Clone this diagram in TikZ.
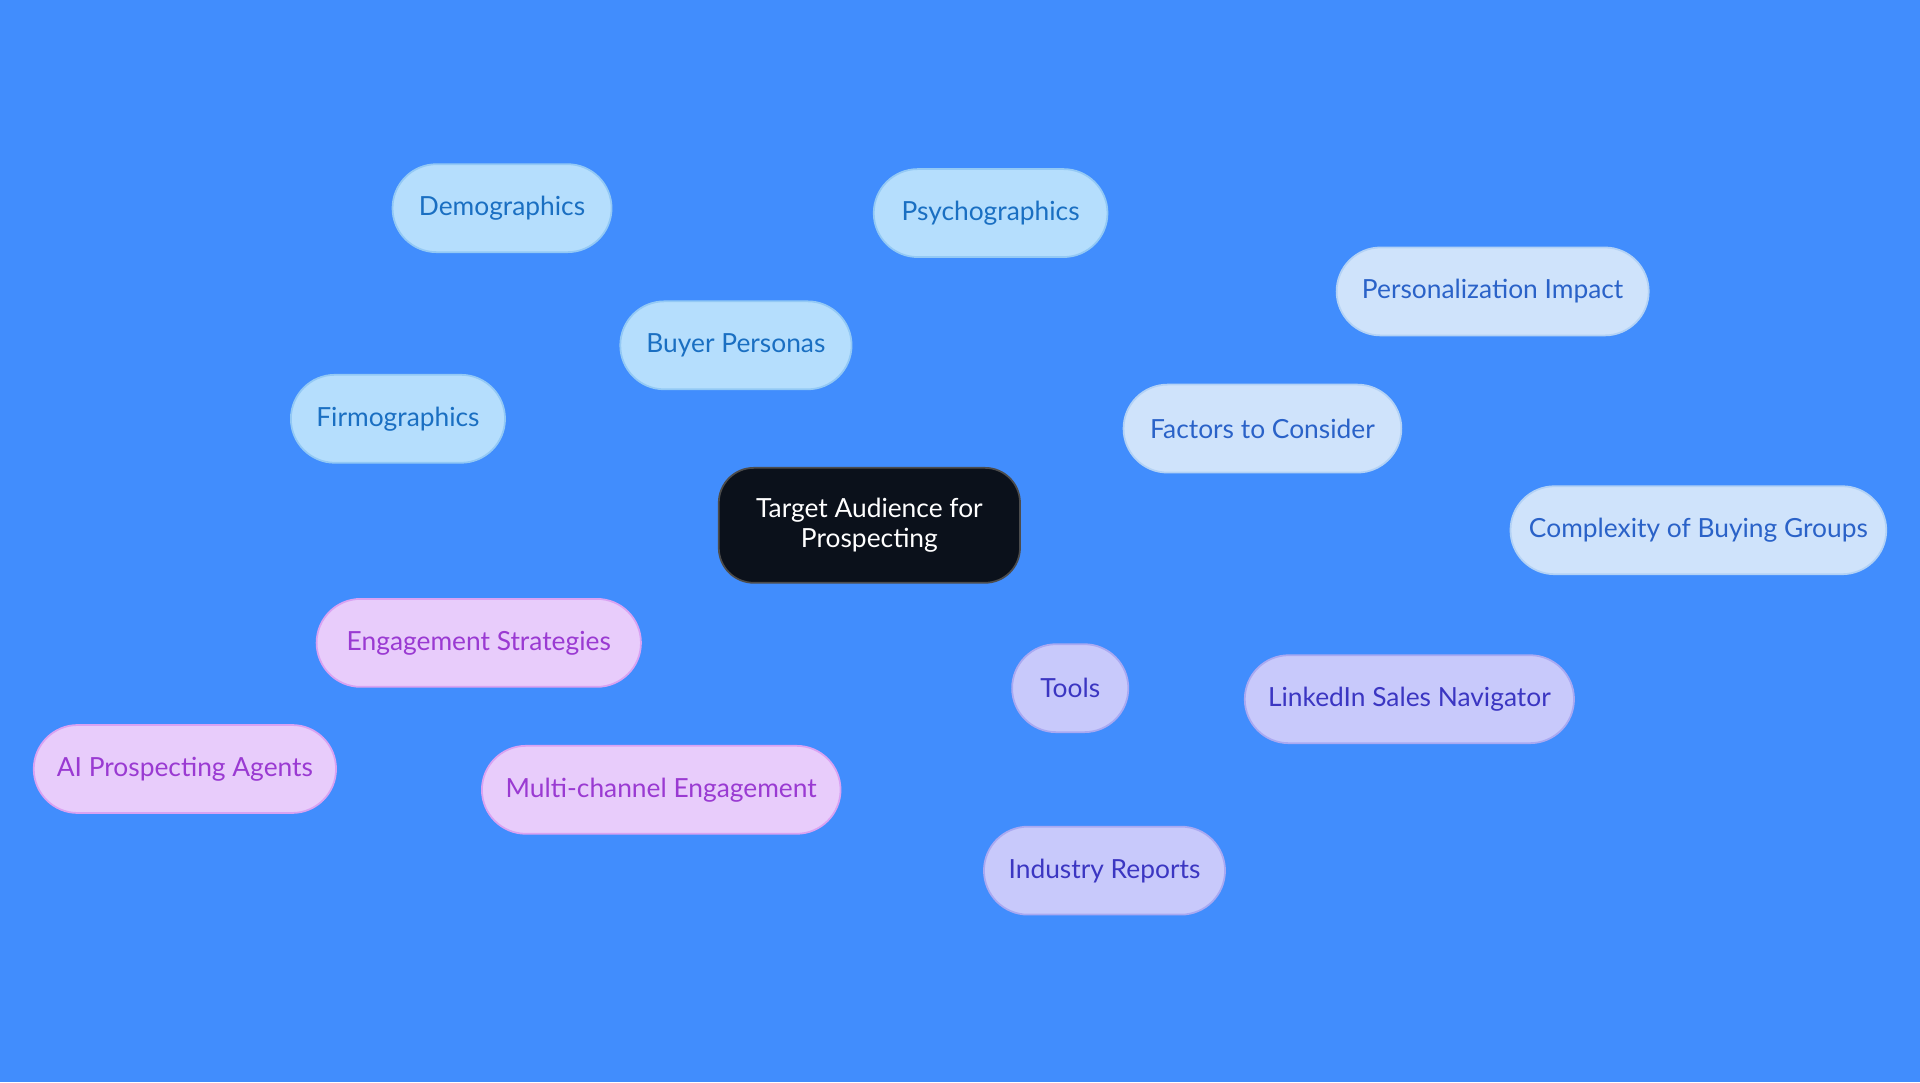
\documentclass[tikz,border=0pt]{standalone}
\usepackage{fontspec}
\setmainfont{Lato}
\usetikzlibrary{positioning, backgrounds, shapes}
\definecolor{bgblue}{HTML}{418DFD}
\definecolor{centerfill}{HTML}{0B111B}
\definecolor{bpfill}{HTML}{B5DEFD}
\definecolor{bptext}{HTML}{1A6FC2}
\definecolor{bpline}{HTML}{93C9F5}
\definecolor{fcfill}{HTML}{CFE3FB}
\definecolor{fctext}{HTML}{2A62C8}
\definecolor{fcline}{HTML}{B3D2F5}
\definecolor{tlfill}{HTML}{C8C9FB}
\definecolor{tltext}{HTML}{3B36C2}
\definecolor{tlline}{HTML}{A9A9F2}
\definecolor{enfill}{HTML}{E8CCFB}
\definecolor{entext}{HTML}{9A3AD2}
\definecolor{enline}{HTML}{D9A2F2}
\begin{document}
\begin{tikzpicture}[x=0.01225cm, y=-0.01225cm,
  font=\fontsize{7.5}{8.5}\selectfont,
  box/.style={draw, rounded rectangle, minimum height=0.88cm, line width=0.5pt, align=center, minimum width={#1*0.01225cm}},
  bp/.style={box=#1, fill=bpfill, draw=bpline, text=bptext},
  fc/.style={box=#1, fill=fcfill, draw=fcline, text=fctext},
  tl/.style={box=#1, fill=tlfill, draw=tlline, text=tltext},
  en/.style={box=#1, fill=enfill, draw=enline, text=entext},
  link/.style={line width=1pt}
]
    % Background
    \fill [bgblue] (0, 0) rectangle (1568, 884);
    \useasboundingbox (0, 0) rectangle (1568, 884);

    % Centre
    \node (target) at (710, 429) [box=246, minimum height=1.15cm, rounded corners=0.35cm, rectangle, fill=centerfill, draw=gray!60!black, text=white] {Target Audience for\\Prospecting};

    % Buyer personas
    \node (personas) at (601, 282) [bp=208] {Buyer Personas};
    \node (demo) at (410, 170) [bp=198] {Demographics};
    \node (psycho) at (809, 174) [bp=210] {Psychographics};
    \node (firmo) at (325, 342) [bp=194] {Firmographics};

    % Factors
    \node (factors) at (1031, 350) [fc=246] {Factors to Consider};
    \node (personal) at (1219, 238) [fc=274] {Personalization Impact};
    \node (groups) at (1387, 433) [fc=326] {Complexity of Buying Groups};

    % Tools
    \node (tools) at (874, 562) [tl=114] {Tools};
    \node (linkedin) at (1151, 571) [tl=288] {LinkedIn Sales Navigator};
    \node (reports) at (902, 711) [tl=216] {Industry Reports};

    % Engagement
    \node (engage) at (391, 525) [en=284] {Engagement Strategies};
    \node (agents) at (151, 628) [en=266] {AI Prospecting Agents};
    \node (multi) at (540, 645) [en=312] {Multi-channel Engagement};

    % Connectors
    \begin{scope}[on background layer]
        \draw [link, bpline] (target) -- (personas);
        \draw [link, bpline] (personas) -- (demo);
        \draw [link, bpline] (personas) -- (psycho);
        \draw [link, bpline] (personas) -- (firmo);
        \draw [link, fcline] (target) -- (factors);
        \draw [link, fcline] (factors) -- (personal);
        \draw [link, fcline] (factors) -- (groups);
        \draw [link, tlline] (target) -- (tools);
        \draw [link, tlline] (tools) -- (linkedin);
        \draw [link, tlline] (tools) -- (reports);
        \draw [link, enline] (target) -- (engage);
        \draw [link, enline] (engage) -- (agents);
        \draw [link, enline] (engage) -- (multi);
    \end{scope}
\end{tikzpicture}
\end{document}
